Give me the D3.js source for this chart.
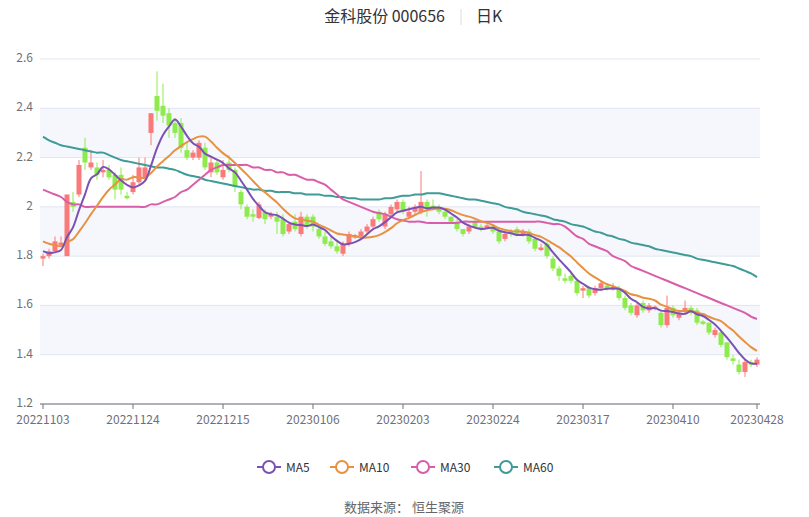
<!DOCTYPE html>
<html><head><meta charset="utf-8">
<script src="https://cdn.jsdelivr.net/npm/d3@7/dist/d3.min.js"></script>
<style>body{margin:0;background:#fff;font-family:"Noto Sans CJK SC","Noto Sans",sans-serif}</style>
</head><body><svg id="c" width="809" height="517"></svg>
<script>
const dateLabels=["20221103","20221124","20221215","20230106","20230203","20230224","20230317","20230410","20230428"];
const labelIdx=[0,15,30,45,60,75,90,105,119];
const yTicks=[1.2,1.4,1.6,1.8,2.0,2.2,2.4,2.6];
const prevCloses=[1.92,1.91,1.90,1.89,1.88,1.86,1.84,1.81,1.79];
const open=[1.79,1.80,1.82,1.845,1.80,2.02,2.05,2.24,2.16,2.16,2.14,2.15,2.13,2.13,2.045,2.06,2.10,2.12,2.30,2.45,
2.41,2.38,2.34,2.34,2.23,2.20,2.20,2.24,2.14,2.18,2.12,2.18,2.15,2.06,2.00,1.97,1.955,1.98,1.96,1.96,
1.95,1.90,1.94,1.89,1.96,1.96,1.91,1.88,1.86,1.84,1.81,1.85,1.875,1.88,1.90,1.92,1.98,1.92,1.97,1.99,
2.02,1.96,1.98,1.98,2.02,2.005,2.00,1.98,1.96,1.94,1.91,1.90,1.94,1.92,1.915,1.92,1.90,1.87,1.90,1.91,
1.89,1.90,1.87,1.825,1.85,1.79,1.75,1.71,1.72,1.70,1.66,1.67,1.65,1.67,1.68,1.665,1.67,1.63,1.60,1.56,
1.61,1.58,1.585,1.57,1.52,1.59,1.55,1.58,1.59,1.58,1.535,1.53,1.48,1.49,1.45,1.385,1.36,1.33,1.37,1.36];
const close=[1.80,1.82,1.86,1.855,2.05,2.00,2.17,2.18,2.18,2.13,2.15,2.12,2.07,2.07,2.035,2.10,2.16,2.16,2.38,2.39,
2.37,2.33,2.30,2.24,2.20,2.22,2.26,2.16,2.18,2.14,2.15,2.15,2.08,2.01,1.96,1.96,2.01,1.95,1.97,1.94,
1.89,1.93,1.91,1.96,1.92,1.92,1.88,1.85,1.84,1.82,1.85,1.89,1.885,1.90,1.92,1.95,1.95,1.97,2.00,2.02,
1.98,1.98,2.00,2.02,1.99,1.995,1.98,1.96,1.94,1.91,1.89,1.92,1.92,1.91,1.925,1.90,1.86,1.89,1.89,1.89,
1.90,1.86,1.83,1.835,1.80,1.75,1.72,1.70,1.70,1.65,1.67,1.64,1.67,1.69,1.67,1.675,1.63,1.59,1.57,1.60,
1.58,1.60,1.595,1.52,1.59,1.56,1.57,1.59,1.57,1.53,1.525,1.49,1.50,1.44,1.39,1.375,1.33,1.37,1.36,1.38];
const high=[1.81,1.83,1.88,1.88,2.05,2.06,2.19,2.28,2.23,2.18,2.19,2.17,2.14,2.16,2.06,2.13,2.20,2.20,2.38,2.55,
2.50,2.40,2.36,2.36,2.26,2.23,2.27,2.26,2.20,2.19,2.19,2.21,2.16,2.07,2.01,1.99,2.02,1.99,1.98,1.98,
1.97,1.94,1.97,1.98,1.97,1.97,1.93,1.90,1.88,1.86,1.86,1.90,1.89,1.91,1.93,1.96,1.99,1.98,2.01,2.03,
2.03,2.00,2.01,2.145,2.03,2.03,2.01,1.99,1.96,1.95,1.91,1.93,1.95,1.93,1.93,1.93,1.91,1.90,1.91,1.92,
1.91,1.91,1.88,1.85,1.86,1.80,1.76,1.73,1.73,1.71,1.68,1.68,1.68,1.70,1.69,1.69,1.68,1.64,1.61,1.61,
1.62,1.61,1.60,1.58,1.64,1.60,1.58,1.62,1.60,1.59,1.54,1.53,1.51,1.50,1.45,1.40,1.38,1.38,1.38,1.39];
const low=[1.76,1.79,1.82,1.84,1.80,1.98,2.04,2.15,2.15,2.11,2.12,2.11,2.03,2.05,2.03,2.05,2.09,2.11,2.25,2.35,
2.34,2.28,2.28,2.22,2.19,2.19,2.19,2.15,2.12,2.13,2.11,2.14,2.06,1.99,1.95,1.94,1.95,1.93,1.95,1.89,
1.88,1.89,1.90,1.88,1.91,1.90,1.87,1.84,1.83,1.81,1.80,1.84,1.87,1.87,1.89,1.91,1.94,1.91,1.96,1.98,
1.97,1.95,1.97,1.97,1.96,1.99,1.97,1.95,1.93,1.90,1.88,1.89,1.91,1.90,1.91,1.89,1.85,1.86,1.88,1.88,
1.88,1.85,1.82,1.82,1.79,1.74,1.70,1.69,1.69,1.64,1.63,1.63,1.64,1.66,1.66,1.66,1.62,1.58,1.56,1.55,
1.57,1.57,1.58,1.51,1.51,1.55,1.54,1.57,1.56,1.52,1.52,1.48,1.47,1.43,1.38,1.36,1.32,1.31,1.35,1.35];
const ma30=[2.07,2.06,2.05,2.04,2.02,2.01,2.01,2.00,2.00,2.00,2.00,2.00,2.00,2.00,2.00,2.00,2.00,2.00,2.01,2.01,
2.02,2.03,2.04,2.06,2.07,2.09,2.11,2.13,2.15,2.16,2.17,2.17,2.17,2.17,2.17,2.16,2.16,2.15,2.15,2.14,
2.14,2.13,2.13,2.12,2.11,2.11,2.10,2.09,2.07,2.05,2.03,2.02,2.01,2.00,1.99,1.98,1.975,1.97,1.96,1.95,
1.945,1.94,1.94,1.94,1.935,1.935,1.935,1.935,1.935,1.935,1.94,1.94,1.94,1.94,1.94,1.94,1.94,1.94,1.94,1.94,
1.94,1.94,1.94,1.94,1.935,1.93,1.93,1.92,1.90,1.88,1.87,1.85,1.84,1.83,1.82,1.80,1.79,1.78,1.76,1.75,
1.74,1.73,1.72,1.71,1.70,1.69,1.68,1.67,1.66,1.65,1.64,1.63,1.62,1.61,1.60,1.59,1.58,1.57,1.555,1.545];
const ma60=[2.285,2.27,2.26,2.25,2.245,2.24,2.235,2.23,2.225,2.22,2.22,2.21,2.20,2.19,2.185,2.18,2.175,2.17,2.165,2.16,
2.16,2.155,2.15,2.14,2.13,2.125,2.12,2.11,2.105,2.10,2.095,2.09,2.085,2.08,2.075,2.07,2.07,2.065,2.065,2.06,
2.06,2.06,2.055,2.055,2.05,2.05,2.05,2.045,2.045,2.04,2.04,2.035,2.035,2.03,2.03,2.03,2.03,2.035,2.035,2.04,
2.045,2.045,2.05,2.05,2.055,2.055,2.055,2.05,2.045,2.04,2.035,2.03,2.03,2.025,2.02,2.015,2.01,2.0,1.995,1.99,
1.98,1.975,1.97,1.965,1.96,1.95,1.945,1.94,1.93,1.925,1.92,1.91,1.90,1.895,1.885,1.88,1.87,1.865,1.855,1.85,
1.845,1.84,1.83,1.825,1.82,1.815,1.81,1.805,1.80,1.79,1.785,1.78,1.775,1.77,1.765,1.76,1.75,1.74,1.73,1.715];

const svg=d3.select("#c");
const L=40,R=760,T=59,B=404;
const n=close.length;
const x=d3.scalePoint().domain(d3.range(n)).range([L+3,R-3]);
const y=d3.scaleLinear().domain([1.2,2.6]).range([B,T]);
for(let i=0;i<yTicks.length-1;i++){ if(i%2===1) svg.append("rect").attr("x",L).attr("width",R-L).attr("y",y(yTicks[i+1])).attr("height",y(yTicks[i])-y(yTicks[i+1])).attr("fill","#f5f7fc");}
svg.append("g").selectAll("line").data(yTicks).join("line").attr("x1",L).attr("x2",R).attr("y1",d=>y(d)).attr("y2",d=>y(d)).attr("stroke","#e0e6f1");
svg.append("g").selectAll("text").data(yTicks).join("text").attr("x",33).attr("y",d=>y(d)+3).attr("text-anchor","end").attr("font-size",12).attr("fill","#6e7079").text(d=>d===2?"2":d.toFixed(1));
svg.append("line").attr("x1",L).attr("x2",R).attr("y1",B).attr("y2",B).attr("stroke","#6e7079");
svg.append("g").selectAll("text").data(labelIdx).join("text").attr("x",d=>x(d)).attr("y",B+20).attr("text-anchor","middle").attr("font-size",12).attr("fill","#6e7079").text((d,i)=>dateLabels[i]);
svg.append("g").selectAll("line").data(labelIdx).join("line").attr("x1",d=>x(d)).attr("x2",d=>x(d)).attr("y1",B).attr("y2",B+5).attr("stroke","#6e7079");
const up="#fa7a7a",dn="#8deb4d";
const g=svg.append("g");
d3.range(n).forEach(i=>{
 const c=close[i]>=open[i]?up:dn;
 g.append("line").attr("x1",x(i)).attr("x2",x(i)).attr("y1",y(high[i])).attr("y2",y(low[i])).attr("stroke",c).attr("stroke-width",1);
 const t=y(Math.max(open[i],close[i])),b=y(Math.min(open[i],close[i]));
 g.append("rect").attr("x",x(i)-2.5).attr("width",5).attr("y",t).attr("height",Math.max(1,b-t)).attr("fill",c);
});
const all=prevCloses.concat(close);
function ma(k){return d3.range(n).map(i=>{const j=i+prevCloses.length;const s=all.slice(Math.max(0,j-k+1),j+1);return d3.mean(s);});}
const series=[["MA5",ma(5),"#7b52b3"],["MA10",ma(10),"#e8913f"],["MA30",ma30,"#d95ea9"],["MA60",ma60,"#3f9b98"]];
const line=d3.line().x((d,i)=>x(i)).y(d=>y(d)).curve(d3.curveCatmullRom);
series.slice().reverse().forEach(s=>svg.append("path").attr("d",line(s[1])).attr("fill","none").attr("stroke",s[2]).attr("stroke-width",2));
const lx=[257,330,411,494];
series.forEach((s,i)=>{const gg=svg.append("g").attr("transform",`translate(${lx[i]},467)`);
 gg.append("line").attr("x1",0).attr("x2",24).attr("stroke",s[2]).attr("stroke-width",2);
 gg.append("circle").attr("cx",12).attr("r",6).attr("fill","#fff").attr("stroke",s[2]).attr("stroke-width",2);
 gg.append("text").attr("x",29).attr("y",5).attr("font-size",12).attr("fill","#333").text(s[0]);});
svg.append("text").attr("x",445).attr("y",22).attr("text-anchor","end").attr("font-size",16).attr("fill","#333").text("金科股份 000656");
svg.append("line").attr("x1",461).attr("x2",461).attr("y1",9).attr("y2",25).attr("stroke","#ddd");
svg.append("text").attr("x",476).attr("y",22).attr("font-size",16).attr("fill","#333").text("日K");
svg.append("text").attr("x",404).attr("y",512).attr("text-anchor","middle").attr("font-size",13).attr("fill","#666").text("数据来源：  恒生聚源");
</script></body></html>
